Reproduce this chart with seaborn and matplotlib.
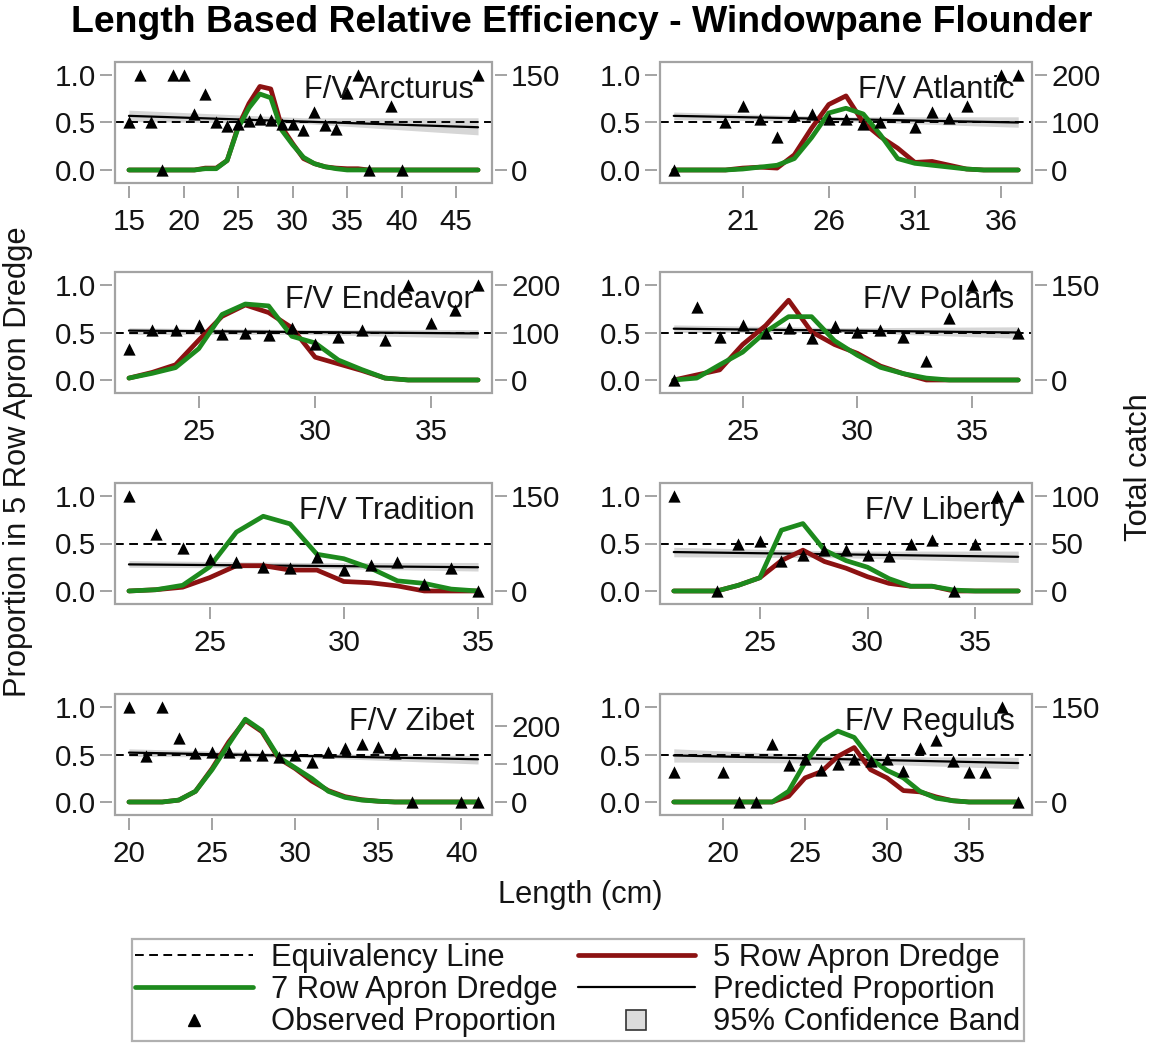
import matplotlib
matplotlib.use("Agg")
import matplotlib.pyplot as plt
import seaborn as sns
from matplotlib.lines import Line2D
from matplotlib.patches import Rectangle
from matplotlib.ticker import FormatStrFormatter, FixedLocator

# ---------------------------------------------------------------- data
vessels = ["F/V Arcturus", "F/V Atlantic", "F/V Endeavor", "F/V Polaris",
           "F/V Tradition", "F/V Liberty", "F/V Zibet", "F/V Regulus"]

# first and last length class (cm) sampled by each vessel
len_first = [15, 17, 22, 22, 22, 21, 20, 17]
len_last = [47, 37, 37, 37, 35, 37, 41, 38]

x_ticks = [[15, 20, 25, 30, 35, 40, 45], [21, 26, 31, 36], [25, 30, 35],
           [25, 30, 35], [25, 30, 35], [25, 30, 35], [20, 25, 30, 35, 40],
           [20, 25, 30, 35]]

# total catch per length class, 5 row apron dredge
catch5_arcturus = [0, 0, 0, 0, 0, 0, 0, 3, 3, 15, 68, 105, 132, 128, 68, 42, 18,
                   10, 5, 3, 2, 2, 0, 0, 0, 0, 0, 0, 0, 0, 0, 0, 0]
catch5_atlantic = [0, 0, 0, 0, 4, 6, 4, 32, 88, 138, 156, 100, 70, 46, 16, 18,
                   10, 2, 0, 0, 0]
catch5_endeavor = [4, 16, 32, 84, 134, 158, 142, 110, 48, 34, 20, 4, 0, 0, 0, 0]
catch5_polaris = [0, 8, 16, 56, 86, 126, 76, 56, 42, 22, 10, 0, 0, 0, 0, 0]
catch5_tradition = [0, 2, 6, 21, 40, 40, 33, 33, 15, 13, 8, 0, 0, 0]
catch5_liberty = [0, 0, 0, 6, 14, 32, 43, 31, 24, 15, 8, 5, 5, 0, 0, 0, 0]
catch5_zibet = [0, 0, 0, 5, 28, 88, 158, 215, 185, 115, 88, 55, 30, 14, 6, 2,
                0, 0, 0, 0, 0, 0]
catch5_regulus = [0, 0, 0, 0, 0, 0, 0, 9, 38, 48, 72, 86, 51, 38, 18, 16, 8, 2,
                  0, 0, 0, 0]

# total catch per length class, 7 row apron dredge
catch7_arcturus = [0, 0, 0, 0, 0, 0, 0, 2, 2, 15, 66, 98, 120, 114, 63, 40, 20,
                   10, 5, 2, 0, 0, 0, 0, 0, 0, 0, 0, 0, 0, 0, 0, 0]
catch7_atlantic = [0, 0, 0, 0, 2, 6, 10, 24, 68, 120, 130, 118, 74, 24, 14, 10,
                   6, 2, 0, 0, 0]
catch7_endeavor = [4, 14, 26, 66, 138, 160, 156, 92, 78, 42, 22, 4, 0, 0, 0, 0]
catch7_polaris = [0, 3, 24, 44, 76, 100, 100, 62, 39, 20, 10, 3, 0, 0, 0, 0]
catch7_tradition = [0, 2, 9, 38, 93, 118, 106, 58, 51, 36, 16, 12, 3, 0]
catch7_liberty = [0, 0, 0, 6, 14, 64, 71, 43, 32, 25, 13, 5, 5, 1, 0, 0, 0]
catch7_zibet = [0, 0, 0, 5, 28, 85, 152, 218, 188, 118, 90, 62, 28, 12, 5, 2,
                0, 0, 0, 0, 0, 0]
catch7_regulus = [0, 0, 0, 0, 0, 0, 0, 17, 62, 96, 112, 102, 68, 50, 38, 17, 6,
                  2, 0, 0, 0, 0]

# observed proportion in the 5 row apron dredge
obs_len_arcturus = [15, 16, 17, 18, 19, 20, 21, 22, 23, 24, 25, 26, 27, 28, 29,
                    30, 31, 32, 33, 34, 35, 36, 37, 39, 40, 47]
obs_prop_arcturus = [0.50, 1.0, 0.50, 0.0, 1.0, 1.0, 0.59, 0.80, 0.50, 0.46,
                     0.48, 0.52, 0.54, 0.53, 0.48, 0.48, 0.42, 0.61, 0.47, 0.43,
                     0.81, 1.0, 0.0, 0.67, 0.0, 1.0]
obs_len_atlantic = [17, 20, 21, 22, 23, 24, 25, 26, 27, 28, 29, 30, 31, 32, 33,
                    34, 36, 37]
obs_prop_atlantic = [0.0, 0.50, 0.67, 0.54, 0.35, 0.58, 0.59, 0.54, 0.54, 0.48,
                     0.51, 0.65, 0.45, 0.61, 0.55, 0.67, 1.0, 1.0]
obs_len_endeavor = [22, 23, 24, 25, 26, 27, 28, 29, 30, 31, 32, 33, 34, 35, 36,
                    37]
obs_prop_endeavor = [0.33, 0.53, 0.53, 0.58, 0.48, 0.49, 0.47, 0.55, 0.38,
                     0.45, 0.53, 0.42, 1.0, 0.60, 0.74, 1.0]
obs_len_polaris = [22, 23, 24, 25, 26, 27, 28, 29, 30, 31, 32, 33, 34, 35, 36,
                   37]
obs_prop_polaris = [0.0, 0.77, 0.45, 0.58, 0.50, 0.55, 0.44, 0.57, 0.51, 0.53,
                    0.45, 0.20, 0.65, 1.0, 1.0, 0.50]
obs_len_tradition = [22, 23, 24, 25, 26, 27, 28, 29, 30, 31, 32, 33, 34, 35]
obs_prop_tradition = [1.0, 0.60, 0.45, 0.34, 0.31, 0.25, 0.24, 0.36, 0.22,
                      0.27, 0.31, 0.07, 0.24, 0.0]
obs_len_liberty = [21, 23, 24, 25, 26, 27, 28, 29, 30, 31, 32, 33, 34, 35, 36,
                   37]
obs_prop_liberty = [1.0, 0.0, 0.49, 0.53, 0.32, 0.38, 0.43, 0.43, 0.38, 0.37,
                    0.49, 0.54, 0.0, 0.49, 1.0, 1.0]
obs_len_zibet = [20, 21, 22, 23, 24, 25, 26, 27, 28, 29, 30, 31, 32, 33, 34, 35,
                 36, 37, 40, 41]
obs_prop_zibet = [1.0, 0.48, 1.0, 0.67, 0.52, 0.53, 0.53, 0.49, 0.49, 0.47,
                  0.50, 0.42, 0.53, 0.57, 0.61, 0.58, 0.52, 0.0, 0.0, 0.0]
obs_len_regulus = [17, 20, 21, 22, 23, 24, 25, 26, 27, 28, 29, 30, 31, 32, 33,
                   34, 35, 36, 37, 38]
obs_prop_regulus = [0.32, 0.32, 0.0, 0.0, 0.61, 0.39, 0.45, 0.34, 0.40, 0.45,
                    0.43, 0.45, 0.33, 0.57, 0.65, 0.43, 0.32, 0.32, 1.0, 0.0]

# fitted proportion at the first and last length class
pred_first = [0.57, 0.57, 0.52, 0.54, 0.28, 0.41, 0.52, 0.49]
pred_last = [0.45, 0.50, 0.49, 0.50, 0.25, 0.36, 0.45, 0.41]

# 95% confidence band at first, middle and last length class
band_mid_len = [31, 27, 29.5, 29.5, 28.5, 29, 30.5, 27.5]
band_lo = [[0.51, 0.49, 0.37], [0.53, 0.51, 0.45], [0.48, 0.48, 0.44],
           [0.50, 0.50, 0.44], [0.25, 0.24, 0.21], [0.36, 0.35, 0.30],
           [0.48, 0.47, 0.40], [0.42, 0.41, 0.35]]
band_hi = [[0.63, 0.55, 0.55], [0.61, 0.56, 0.56], [0.55, 0.53, 0.53],
           [0.58, 0.55, 0.56], [0.32, 0.30, 0.30], [0.46, 0.42, 0.42],
           [0.56, 0.51, 0.49], [0.56, 0.48, 0.47]]

# right axis (total catch)
catch_axis_max = [150, 200, 200, 150, 150, 100, 250, 150]
catch_ticks = [[0, 150], [0, 100, 200], [0, 100, 200], [0, 150], [0, 150],
               [0, 50, 100], [0, 100, 200], [0, 150]]

catch5 = [catch5_arcturus, catch5_atlantic, catch5_endeavor, catch5_polaris,
          catch5_tradition, catch5_liberty, catch5_zibet, catch5_regulus]
catch7 = [catch7_arcturus, catch7_atlantic, catch7_endeavor, catch7_polaris,
          catch7_tradition, catch7_liberty, catch7_zibet, catch7_regulus]
obs_len = [obs_len_arcturus, obs_len_atlantic, obs_len_endeavor, obs_len_polaris,
           obs_len_tradition, obs_len_liberty, obs_len_zibet, obs_len_regulus]
obs_prop = [obs_prop_arcturus, obs_prop_atlantic, obs_prop_endeavor,
            obs_prop_polaris, obs_prop_tradition, obs_prop_liberty,
            obs_prop_zibet, obs_prop_regulus]

# ---------------------------------------------------------------- style
sns.set_theme(style="ticks")
plt.rcParams["font.family"] = ["Liberation Sans", "DejaVu Sans"]

RED = "#8c1212"
GREEN = "#1d8a1d"
FRAME = "#a3a3a3"
TXT = "#141414"
BAND = "#d6d6d6"
FS = 22.2        # labels, panel names, legend
FS_TICK = 21.3   # tick values
DASH = (0, (4.5, 2.8))
YLO, YHI = -0.137, 1.137

W, H = 1156, 1045
fig = plt.figure(figsize=(W / 100, H / 100), dpi=100)
fig.patch.set_facecolor("white")

col_lr = [(115, 492), (660, 1032)]
row_top = [62, 272, 483, 694]
FRAME_H = 121


def add_px_axes(left, top, right, bottom):
    return fig.add_axes([left / W, 1 - bottom / H, (right - left) / W,
                         (bottom - top) / H])


for i, name in enumerate(vessels):
    r, c = divmod(i, 2)
    left, right = col_lr[c]
    top = row_top[r]
    ax = add_px_axes(left, top, right, top + FRAME_H)

    lens = list(range(len_first[i], len_last[i] + 1))
    pad = 0.04 * (lens[-1] - lens[0])
    ax.set_xlim(lens[0] - pad, lens[-1] + pad)
    ax.set_ylim(YLO, YHI)

    # confidence band, fitted proportion and equivalency line
    ax.fill_between([lens[0], band_mid_len[i], lens[-1]], band_lo[i],
                    band_hi[i], color=BAND, lw=0, zorder=1)
    sns.lineplot(x=[lens[0], lens[-1]], y=[pred_first[i], pred_last[i]],
                 color="black", lw=1.6, ax=ax, zorder=2)
    ax.axhline(0.5, color="black", lw=1.4, ls=DASH, zorder=3)
    ax.text(0.953, 0.767, name, transform=ax.transAxes, ha="right",
            va="center", fontsize=FS, color=TXT, zorder=4)

    # total catch curves on the right axis
    ax2 = ax.twinx()
    M = catch_axis_max[i]
    sns.lineplot(x=lens, y=catch5[i], color=RED, lw=3.4, ax=ax2)
    sns.lineplot(x=lens, y=catch7[i], color=GREEN, lw=3.4, ax=ax2)
    ax2.set_ylim(YLO * M, YHI * M)
    ax2.set_xlim(ax.get_xlim())

    # observed proportions drawn on top
    ax3 = ax.twinx()
    sns.scatterplot(x=obs_len[i], y=obs_prop[i], marker="^", color="black",
                    s=78, linewidth=0, ax=ax3, zorder=5)
    ax3.set_ylim(YLO, YHI)
    ax3.axis("off")
    ax3.add_patch(Rectangle((0, 0), 1, 1, transform=ax3.transAxes, fill=False,
                            edgecolor=FRAME, lw=1.6, clip_on=False, zorder=6))

    # axes decoration
    for a in (ax, ax2):
        a.set_xlabel("")
        a.set_ylabel("")
        for sp in a.spines.values():
            sp.set_visible(False)
    ax.spines["left"].set_position(("outward", 2.2))
    ax.spines["bottom"].set_position(("outward", 2.2))
    ax2.spines["right"].set_position(("outward", 2.2))

    ax.xaxis.set_major_locator(FixedLocator(x_ticks[i]))
    ax.yaxis.set_major_locator(FixedLocator([0.0, 0.5, 1.0]))
    ax.yaxis.set_major_formatter(FormatStrFormatter("%.1f"))
    ax2.yaxis.set_major_locator(FixedLocator(catch_ticks[i]))
    ax.tick_params(axis="both", which="major", direction="out", length=8.5,
                   width=1.4, color=FRAME, labelsize=FS_TICK, labelcolor=TXT,
                   top=False, right=False)
    ax.tick_params(axis="y", pad=3.0)
    ax.tick_params(axis="x", pad=7.5)
    ax2.tick_params(axis="y", which="major", direction="out", length=8.5,
                    width=1.4, color=FRAME, labelsize=FS_TICK, labelcolor=TXT,
                    pad=3.0, left=False, right=True)
    ax.grid(False)
    ax2.grid(False)

# ---------------------------------------------------------------- labels
fig.text(582 / W, 1 - 22 / H,
         "Length Based Relative Efficiency - Windowpane Flounder",
         ha="center", va="center", fontsize=26.9, fontweight="bold", color="black")
fig.text(18 / W, 1 - 462 / H, "Proportion in 5 Row Apron Dredge", rotation=90,
         ha="center", va="center", fontsize=FS, color=TXT)
fig.text(1139 / W, 1 - 467 / H, "Total catch", rotation=90, ha="center",
         va="center", fontsize=FS, color=TXT)
fig.text(580 / W, 1 - 895 / H, "Length (cm)", ha="center", va="center",
         fontsize=FS, color=TXT)

# ---------------------------------------------------------------- legend
handles = [
    Line2D([], [], color="black", lw=1.4, ls=DASH),
    Line2D([], [], color=GREEN, lw=3.4),
    Line2D([], [], ls="none", marker="^", color="black", markersize=9),
    Line2D([], [], color=RED, lw=3.4),
    Line2D([], [], color="black", lw=1.6),
    Line2D([], [], ls="none", marker="s", markersize=15,
           markerfacecolor="#dcdcdc", markeredgecolor="#333333",
           markeredgewidth=1.2),
]
labels = ["Equivalency Line", "7 Row Apron Dredge", "Observed Proportion",
          "5 Row Apron Dredge", "Predicted Proportion", "95% Confidence Band"]
leg = fig.legend(handles, labels, ncol=2, loc="center",
                 bbox_to_anchor=(578 / W, 1 - 990 / H), frameon=True,
                 fancybox=False, edgecolor="#b0b0b0", framealpha=1,
                 handlelength=3.8, handletextpad=0.6, columnspacing=0.65,
                 labelspacing=0.08, borderpad=0.12, fontsize=FS)
leg.get_frame().set_linewidth(1.6)
for t in leg.get_texts():
    t.set_color(TXT)

fig.savefig("out.png", dpi=100, facecolor="white")
